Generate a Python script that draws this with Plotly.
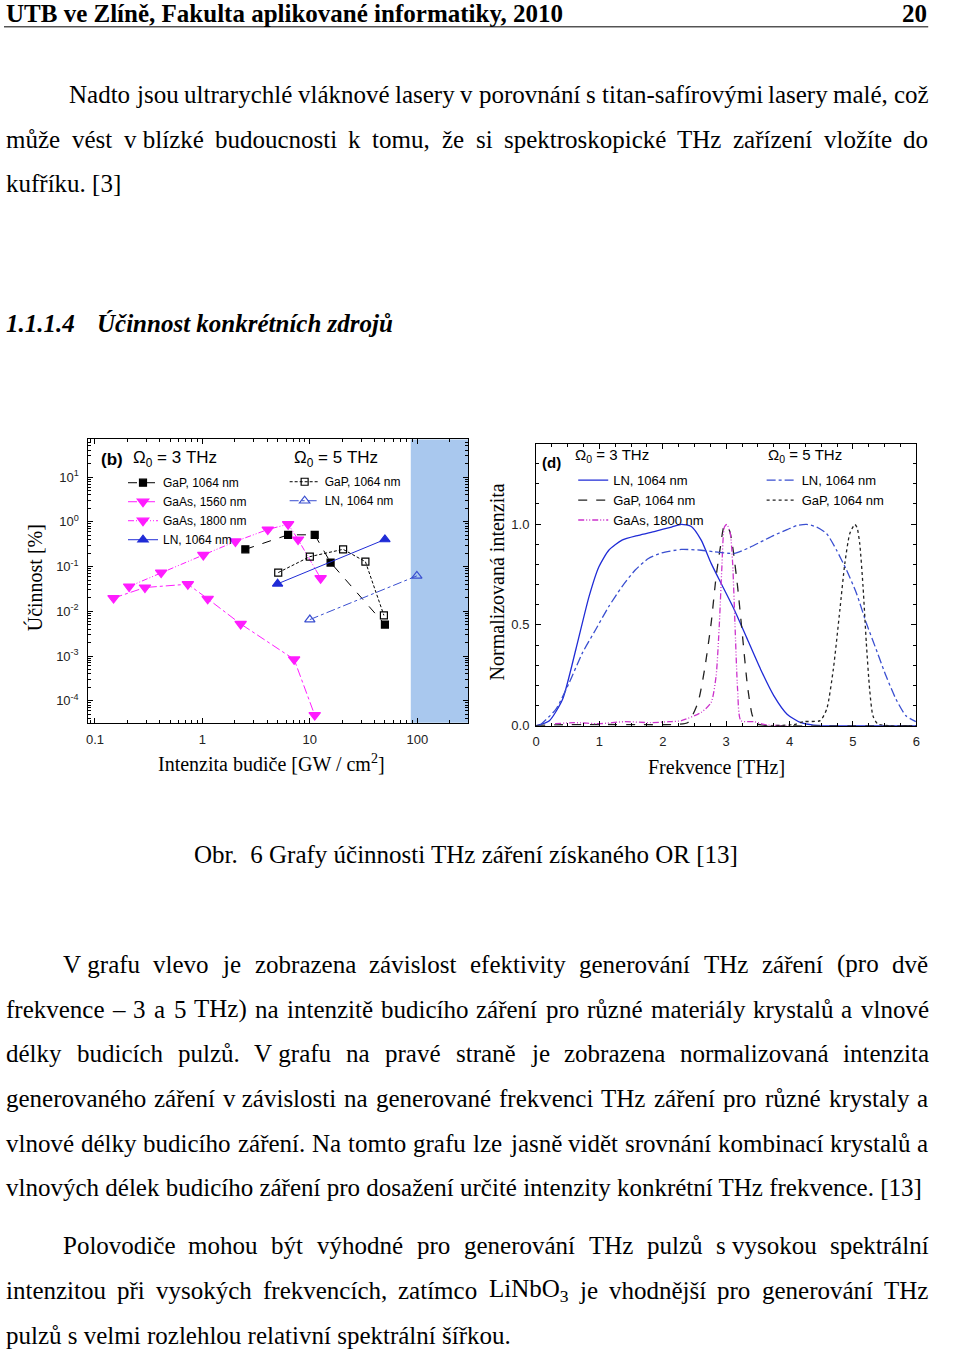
import re
import unicodedata
import plotly.graph_objects as go

# ---------------- chart (b): efficiency vs pump intensity ----------------
gap3_x = [2.51, 6.28, 11.1, 15.6, 50.0]
gap3_y = [0.243, 0.514, 0.514, 0.123, 0.00506]
gaas1560_x = [0.149, 0.292, 0.732, 1.12, 2.27, 7.14, 11.1]
gaas1560_y = [0.0198, 0.0341, 0.0404, 0.0191, 0.00523, 0.000843, 0.000048]
gaas1800_x = [0.208, 0.413, 1.02, 2.03, 4.06, 6.28, 7.77, 12.6]
gaas1800_y = [0.0359, 0.0736, 0.182, 0.365, 0.675, 0.888, 0.404, 0.0550]
ln3_x = [5.01, 50.0]
ln3_y = [0.0412, 0.404]
gap5_x = [5.08, 10.0, 20.4, 32.9, 48.9]
gap5_y = [0.0736, 0.167, 0.243, 0.129, 0.00815]
ln5_x = [10.0, 99.1]
ln5_y = [0.00654, 0.0621]
band_x = [87, 300]          # shaded (damage) region
band_y = [1e-5, 100]

# ---------------- chart (d): normalised spectra ----------------
sp_ln3_x = [0.0, 0.211, 0.419, 0.628, 0.836, 0.992, 1.148, 1.357, 1.617, 1.878, 2.138, 2.294,
            2.45, 2.606, 2.763, 2.919, 3.128, 3.336, 3.544, 3.753, 3.961, 4.169, 4.378, 5.0, 6.0]
sp_ln3_y = [0.0, 0.025, 0.131, 0.378, 0.640, 0.788, 0.870, 0.920, 0.944, 0.964, 0.985, 0.998,
            0.988, 0.920, 0.805, 0.706, 0.575, 0.427, 0.279, 0.148, 0.057, 0.016, 0.003, 0.0, 0.0]
sp_ln5_x = [0.055, 0.315, 0.523, 0.732, 0.940, 1.148, 1.357, 1.565, 1.773, 1.982, 2.294, 2.606,
            2.815, 3.128, 3.336, 3.544, 3.753, 3.961, 4.117, 4.273, 4.430, 4.586, 4.742, 4.898,
            5.055, 5.211, 5.367, 5.523, 5.680, 5.836, 5.992]
sp_ln5_y = [0.0, 0.082, 0.213, 0.361, 0.476, 0.591, 0.690, 0.772, 0.829, 0.857, 0.874, 0.870,
            0.862, 0.854, 0.879, 0.911, 0.944, 0.972, 0.993, 0.998, 0.985, 0.952, 0.870, 0.772,
            0.657, 0.509, 0.378, 0.246, 0.131, 0.049, 0.020]
sp_gap3_x = [0.0, 0.3, 1.0, 1.6, 2.19, 2.398, 2.555, 2.659, 2.763, 2.841, 2.909, 2.972, 3.05,
             3.102, 3.18, 3.258, 3.336, 3.414, 3.492, 4.0, 6.0]
sp_gap3_y = [0.0, 0.004, 0.006, 0.005, 0.006, 0.016, 0.115, 0.279, 0.509, 0.739, 0.887, 0.993,
             0.969, 0.887, 0.690, 0.443, 0.197, 0.049, 0.008, 0.0, 0.0]
sp_gaas_x = [0.3, 0.6, 1.0, 1.4, 1.8, 2.1, 2.294, 2.606, 2.763, 2.841, 2.893, 2.93, 2.972, 3.013,
             3.065, 3.102, 3.138, 3.18, 3.232, 3.44, 3.648, 4.0]
sp_gaas_y = [0.01, 0.015, 0.01, 0.02, 0.015, 0.02, 0.025, 0.066, 0.115, 0.246, 0.509, 0.772,
             0.985, 0.998, 0.952, 0.805, 0.509, 0.181, 0.025, 0.02, 0.003, 0.0]
sp_gap5_x = [3.6, 4.065, 4.22, 4.482, 4.586, 4.69, 4.794, 4.872, 4.95, 5.029, 5.065, 5.107,
             5.159, 5.211, 5.263, 5.315, 5.393, 5.6, 6.0]
sp_gap5_y = [0.0, 0.005, 0.02, 0.025, 0.082, 0.279, 0.575, 0.805, 0.952, 0.998, 0.982, 0.903,
             0.690, 0.411, 0.181, 0.049, 0.008, 0.0, 0.0]

x_ticks_b = [0.1, 1, 10, 100]
x_text_b = ["0.1", "1", "10", "100"]
y_ticks_b = [10, 1, 0.1, 0.01, 0.001, 0.0001]
y_text_b = ["10<sup>1</sup>", "10<sup>0</sup>", "10<sup>-1</sup>", "10<sup>-2</sup>",
            "10<sup>-3</sup>", "10<sup>-4</sup>"]

# ---------------- page text ----------------
header_left = "UTB ve Zlíně, Fakulta aplikované informatiky, 2010"
header_right = "20"
heading_num = "1.1.1.4"
heading_txt = "Účinnost konkrétních zdrojů"
caption = "Obr.  6 Grafy účinnosti THz záření získaného OR [13]"

# (text, left px, centre y px, justified)
body_lines = [
    ("Nadto jsou ultrarychlé vláknové lasery v porovnání s titan-safírovými lasery malé, což", 66, 95, True),
    ("může vést v\u00a0blízké budoucnosti k tomu, že si spektroskopické THz zařízení vložíte do", 2, 140, True),
    ("kufříku. [3]", 2, 185, False),
    ("V\u00a0grafu vlevo je zobrazena závislost efektivity generování THz záření (pro dvě", 59, 970, True),
    ("frekvence – 3 a 5 THz) na intenzitě budicího záření pro různé materiály krystalů a vlnové", 2, 1015, True),
    ("délky budicích pulzů. V\u00a0grafu na pravé straně je zobrazena normalizovaná intenzita", 2, 1060, True),
    ("generovaného záření v\u00a0závislosti na generované frekvenci THz záření pro různé krystaly a", 2, 1105, True),
    ("vlnové délky budicího záření. Na tomto grafu lze jasně vidět srovnání kombinací krystalů a", 2, 1150, True),
    ("vlnových délek budicího záření pro dosažení určité intenzity konkrétní THz frekvence. [13]", 2, 1195, False),
    ("Polovodiče mohou být výhodné pro generování THz pulzů s\u00a0vysokou spektrální", 59, 1253, True),
    ("intenzitou při vysokých frekvencích, zatímco LiNbO<sub>3</sub> je vhodnější pro generování THz", 2, 1298, True),
    ("pulzů s velmi rozlehlou relativní spektrální šířkou.", 2, 1343, False),
]

W, H = 960, 1357
SERIF = "Liberation Serif"
SANS = "Liberation Sans"
BODY = 25
RIGHT = 932

# Times / Liberation Serif advance widths (per 1000 em)
TIMES = {' ': 250, '\u00a0': 250, ',': 250, '.': 250, '-': 333, '–': 500, '(': 333, ')': 333,
         '[': 333, ']': 333, 'a': 444, 'b': 500, 'c': 444, 'd': 500, 'e': 444, 'f': 333, 'g': 500,
         'h': 500, 'i': 278, 'j': 278, 'k': 500, 'l': 278, 'm': 778, 'n': 500, 'o': 500, 'p': 500,
         'q': 500, 'r': 333, 's': 389, 't': 278, 'u': 500, 'v': 500, 'w': 722, 'x': 500, 'y': 500,
         'z': 444, 'A': 722, 'H': 722, 'L': 611, 'N': 722, 'O': 722, 'P': 556, 'R': 667, 'T': 611,
         'V': 722, 'Z': 611}


def px(x):
    return x / W


def py(y):
    return 1 - y / H


def word_width(word, size):
    total = 0.0
    for m in re.finditer(r"<sub>(.*?)</sub>|([^<]+)", word):
        part = m.group(1) if m.group(1) is not None else m.group(2)
        scale = 0.7 if m.group(1) is not None else 1
        for ch in part:
            base = unicodedata.normalize("NFD", ch)[0]
            total += TIMES.get(base, 500) / 1000 * size * scale
    return total


annotations = []


def add_text(text, x, y, size=BODY, xanchor="left", family=SERIF, **kw):
    annotations.append(dict(text=text, x=px(x), y=py(y), xref="paper", yref="paper",
                            xanchor=xanchor, yanchor="middle", showarrow=False,
                            borderpad=0, borderwidth=0,
                            font=dict(family=family, size=size, color="black"), **kw))


for text, left, yc, justified in body_lines:
    if not justified:
        add_text(text, left, yc)
        continue
    words = text.split(" ")
    widths = [word_width(w, BODY) for w in words]
    gap = (RIGHT - left - sum(widths)) / (len(words) - 1)
    x = left
    for w, ww in zip(words, widths):
        add_text(w, x, yc)
        x += ww + gap

add_text("<b>" + header_left + "</b>", 2, 14)
add_text("<b>" + header_right + "</b>", 931, 14, xanchor="right")
add_text("<b><i>" + heading_num + "</i></b>", 2, 325)
add_text("<b><i>" + heading_txt + "</i></b>", 94, 325)
add_text(caption, 466, 860, xanchor="center")

# chart labels
add_text("Intenzita budiče [GW / cm<sup>2</sup>]", 270, 768, size=20, xanchor="center")
add_text("Účinnost [%]", 31, 581, size=20, xanchor="center", textangle=-90)
add_text("Frekvence [THz]", 718, 772, size=20, xanchor="center")
add_text("Normalizovaná intenzita", 497, 585, size=20, xanchor="center", textangle=-90)
add_text("<b>(b)</b>", 98, 462, size=17, family=SANS)
add_text("Ω<sub>0</sub> = 3 THz", 130, 462, size=17, family=SANS)
add_text("Ω<sub>0</sub> = 5 THz", 292, 462, size=17, family=SANS)
add_text("<b>(d)</b>", 543, 465, size=15, family=SANS)
add_text("Ω<sub>0</sub> = 3 THz", 576, 458, size=15, family=SANS)
add_text("Ω<sub>0</sub> = 5 THz", 770, 458, size=15, family=SANS)

MAGENTA = "#ff1cff"
PURPLE = "#cc33cc"
BLUE = "#1f2bd6"
BLUE2 = "#3a4fd0"

fig = go.Figure()

# shaded band (b)
fig.add_trace(go.Scatter(x=[band_x[0], band_x[1], band_x[1], band_x[0]],
                         y=[band_y[0], band_y[0], band_y[1], band_y[1]],
                         fill="toself", fillcolor="#a9c8ee", line=dict(width=0),
                         mode="lines", showlegend=False, hoverinfo="skip",
                         xaxis="x", yaxis="y"))


def eff_trace(x, y, name, color, dash, symbol, size, legend):
    return go.Scatter(x=x, y=y, name=name, mode="lines+markers", legend=legend,
                      line=dict(color=color, width=1, dash=dash),
                      marker=dict(symbol=symbol, size=size, color=color,
                                  line=dict(color=color, width=1.2)),
                      xaxis="x", yaxis="y")


fig.add_trace(eff_trace(gap3_x, gap3_y, "GaP, 1064 nm", "black", "dash", "square", 7, "legend"))
fig.add_trace(eff_trace(gaas1560_x, gaas1560_y, "GaAs, 1560 nm", MAGENTA, "dashdot",
                        "triangle-down", 10, "legend"))
fig.add_trace(eff_trace(gaas1800_x, gaas1800_y, "GaAs, 1800 nm", MAGENTA, "6px,2px,1px,2px,1px,2px",
                        "triangle-down", 10, "legend"))
fig.add_trace(eff_trace(ln3_x, ln3_y, "LN, 1064 nm", BLUE, "solid", "triangle-up", 9, "legend"))
fig.add_trace(eff_trace(gap5_x, gap5_y, "GaP, 1064 nm", "black", "3px,2px", "square-open", 7, "legend2"))
fig.add_trace(eff_trace(ln5_x, ln5_y, "LN, 1064 nm", BLUE2, "dashdot", "triangle-up-open", 9, "legend2"))


def spec_trace(x, y, name, color, dash, legend):
    return go.Scatter(x=x, y=y, name=name, mode="lines", legend=legend,
                      line=dict(color=color, width=1.3, dash=dash, shape="spline", smoothing=0.6),
                      xaxis="x2", yaxis="y2")


fig.add_trace(spec_trace(sp_ln3_x, sp_ln3_y, "LN, 1064 nm", BLUE, "solid", "legend3"))
fig.add_trace(spec_trace(sp_gap3_x, sp_gap3_y, "GaP, 1064 nm", "#222222", "dash", "legend3"))
fig.add_trace(spec_trace(sp_gaas_x, sp_gaas_y, "GaAs, 1800 nm", PURPLE, "6px,2px,1px,2px,1px,2px", "legend3"))
fig.add_trace(spec_trace(sp_ln5_x, sp_ln5_y, "LN, 1064 nm", BLUE2, "dashdot", "legend4"))
fig.add_trace(spec_trace(sp_gap5_x, sp_gap5_y, "GaP, 1064 nm", "#222222", "dot", "legend4"))

axis_common = dict(showline=True, linecolor="black", linewidth=1, mirror="allticks",
                   ticks="inside", ticklen=5, tickcolor="black", showgrid=False, zeroline=False,
                   tickfont=dict(family=SANS, size=13, color="#222222"))
minor_log_x = [m * 10 ** e for e in range(-2, 3) for m in range(2, 10)]
minor_log_y = [m * 10 ** e for e in range(-5, 2) for m in range(2, 10)]


def legend_box(x, y, size):
    return dict(x=px(x), y=py(y), xanchor="left", yanchor="top", bgcolor="rgba(0,0,0,0)",
                borderwidth=0, itemwidth=30, tracegroupgap=0,
                font=dict(family=SANS, size=size, color="black"))


fig.update_layout(
    width=W, height=H, margin=dict(l=0, r=0, t=0, b=0),
    paper_bgcolor="white", plot_bgcolor="white",
    xaxis=dict(axis_common, domain=[px(85), px(468)], type="log", range=[-1.062, 2.473],
               anchor="y", tickvals=x_ticks_b, ticktext=x_text_b, ticklabelstandoff=5,
               minor=dict(ticks="inside", ticklen=3, tickcolor="black", tickvals=minor_log_x)),
    yaxis=dict(axis_common, domain=[py(727), py(442)], type="log", range=[-4.49, 1.844],
               anchor="x", tickvals=y_ticks_b, ticktext=y_text_b, ticklabelstandoff=6,
               minor=dict(ticks="inside", ticklen=3, tickcolor="black", tickvals=minor_log_y)),
    xaxis2=dict(axis_common, domain=[px(536.5), px(920)], range=[0, 6], anchor="y2",
                dtick=1, ticklabelstandoff=4,
                minor=dict(ticks="inside", ticklen=3, tickcolor="black", dtick=0.25)),
    yaxis2=dict(axis_common, domain=[py(730), py(447)], range=[0, 1.395], anchor="x2",
                tickvals=[0, 0.5, 1.0], ticktext=["0.0", "0.5", "1.0"], ticklabelstandoff=3,
                minor=dict(ticks="inside", ticklen=3, tickcolor="black", dtick=0.1)),
    legend=legend_box(120, 471, 12),
    legend2=legend_box(283, 470, 12),
    legend3=legend_box(574, 468, 13),
    legend4=legend_box(764, 468, 13),
    annotations=annotations,
    shapes=[dict(type="line", xref="paper", yref="paper", x0=0, x1=px(932),
                 y0=py(27), y1=py(27), line=dict(color="black", width=1))],
)

# the page body would otherwise add its default 8px margin round the figure
fig.write_html("out.html", config={"displayModeBar": False},
               post_script="document.body.style.margin = '0';")
